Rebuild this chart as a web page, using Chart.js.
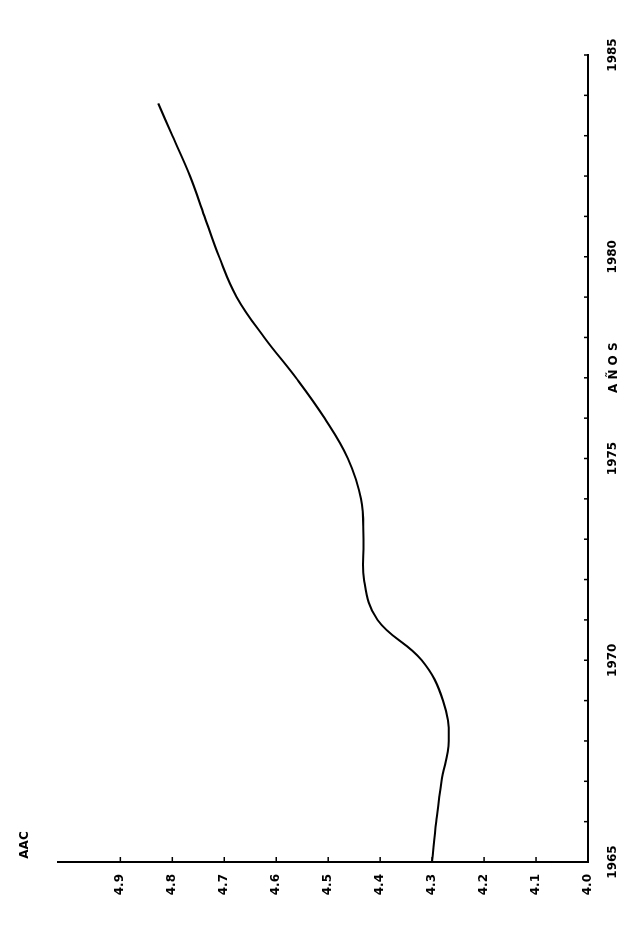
<!DOCTYPE html>
<html>
<head>
<meta charset="utf-8">
<script src="https://cdn.jsdelivr.net/npm/chart.js@4/dist/chart.umd.min.js"></script>
<style>
  html, body { margin: 0; padding: 0; background: #fff; width: 642px; height: 935px; overflow: hidden; }
  #wrap { position: absolute; left: 0; top: 0; width: 935px; height: 642px;
          transform-origin: 0 0; transform: translate(0px, 935px) rotate(-90deg); }
</style>
</head>
<body>
<div id="wrap"><canvas id="c" width="935" height="642"></canvas></div>
<script>
// ---- data ----
const years = [1965, 1966, 1967, 1968, 1969, 1970, 1971, 1972, 1973, 1974,
               1975, 1976, 1977, 1978, 1979, 1980, 1981, 1982, 1983, 1983.8];
const aac   = [4.300, 4.292, 4.282, 4.268, 4.279, 4.320, 4.405, 4.431, 4.432, 4.437,
               4.462, 4.507, 4.562, 4.623, 4.676, 4.710, 4.738, 4.766, 4.800, 4.827];
const yearTicks  = [1965,1966,1967,1968,1969,1970,1971,1972,1973,1974,1975,
                    1976,1977,1978,1979,1980,1981,1982,1983,1984,1985];
const yearLabels = ['1965','','','','','1970','','','','','1975',
                    '','','','','1980','','','','','1985'];
const aacTicks  = [4.0, 4.1, 4.2, 4.3, 4.4, 4.5, 4.6, 4.7, 4.8, 4.9];
const aacLabels = ['4.0','4.1','4.2','4.3','4.4','4.5','4.6','4.7','4.8','4.9'];
const yTitle = 'AAC';
const xTitle = 'A Ñ O S';

const FONT = 'DejaVu Sans';

const innerTicks = {
  id: 'innerTicks',
  afterDraw(chart) {
    const ctx = chart.ctx, a = chart.chartArea;
    const xs = chart.scales.x, ys = chart.scales.y;
    ctx.save();
    ctx.strokeStyle = '#000';
    ctx.lineWidth = 1.5;
    xs.ticks.forEach(t => {
      const p = xs.getPixelForValue(t.value);
      ctx.beginPath(); ctx.moveTo(p, a.bottom); ctx.lineTo(p, a.bottom - 4); ctx.stroke();
    });
    ys.ticks.forEach(t => {
      const p = ys.getPixelForValue(t.value);
      ctx.beginPath(); ctx.moveTo(a.left, p); ctx.lineTo(a.left + 5, p); ctx.stroke();
    });
    // titles
    ctx.fillStyle = '#000';
    ctx.font = 'bold 12px "' + FONT + '"';
    ctx.textAlign = 'center';
    ctx.textBaseline = 'middle';
    ctx.fillText(yTitle, a.left + 17, 25);
    ctx.fillText(xTitle, xs.getPixelForValue(1977.25), 614);
    ctx.restore();
  }
};

new Chart(document.getElementById('c'), {
  type: 'line',
  data: {
    datasets: [{
      data: years.map((y, i) => ({ x: y, y: aac[i] })),
      borderColor: '#000',
      borderWidth: 2,
      pointRadius: 0,
      fill: false,
      tension: 0.4
    }]
  },
  options: {
    responsive: false,
    animation: false,
    devicePixelRatio: 1,
    layout: { padding: { left: 0, right: 55, top: 58, bottom: 0 } },
    plugins: { legend: { display: false }, tooltip: { enabled: false } },
    scales: {
      x: {
        type: 'linear',
        min: 1965, max: 1985,
        afterBuildTicks: s => { s.ticks = yearTicks.map(v => ({ value: v })); },
        afterFit: s => { s.height = 54; },
        grid: { display: false, drawTicks: false },
        border: { display: true, color: '#000', width: 2 },
        ticks: {
          color: '#000',
          font: { family: FONT, size: 12, weight: 'bold' },
          padding: 18,
          maxRotation: 0, autoSkip: false,
          callback: (v, i) => yearLabels[i]
        }
      },
      y: {
        type: 'linear',
        min: 4.0, max: 5.02,
        afterBuildTicks: s => { s.ticks = aacTicks.map(v => ({ value: v })); },
        afterFit: s => { s.width = 73; },
        grid: { display: false, drawTicks: false },
        border: { display: true, color: '#000', width: 2 },
        ticks: {
          color: '#000',
          font: { family: FONT, size: 12, weight: 'bold' },
          padding: 12,
          autoSkip: false,
          callback: (v, i) => aacLabels[i]
        }
      }
    }
  },
  plugins: [innerTicks]
});
</script>
</body>
</html>
